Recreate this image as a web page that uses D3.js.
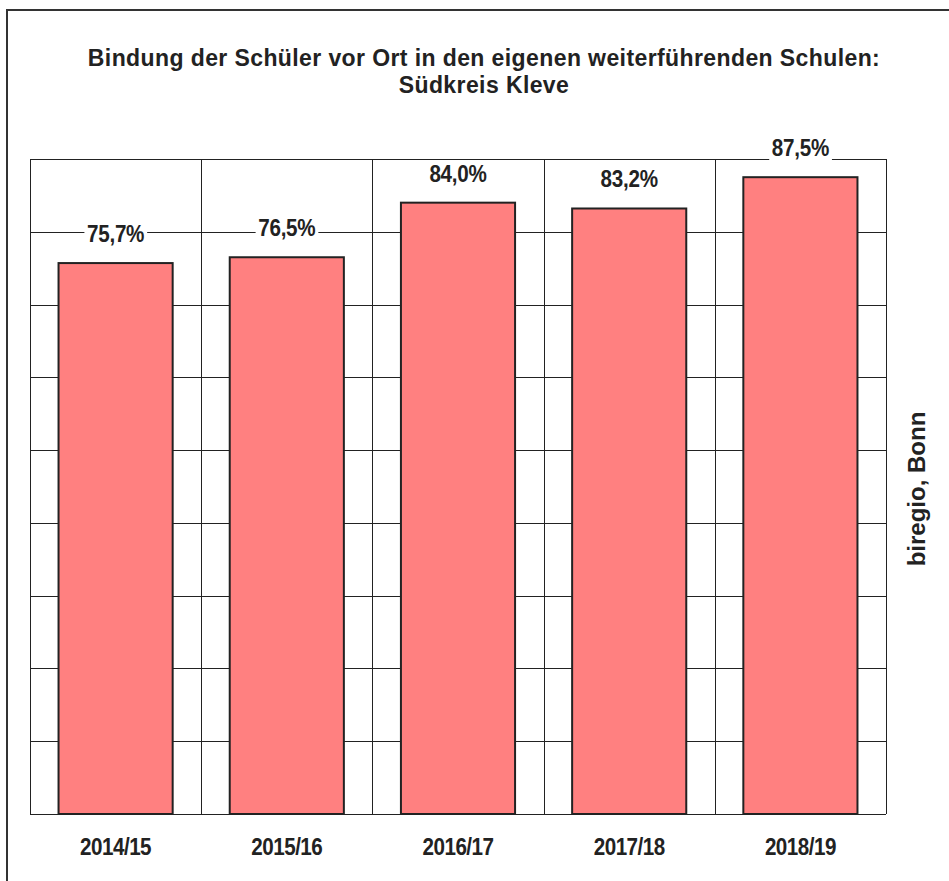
<!DOCTYPE html>
<html>
<head>
<meta charset="utf-8">
<script src="https://cdn.jsdelivr.net/npm/d3@7"></script>
<style>
  html, body { margin: 0; padding: 0; background: #fff; }
  svg { display: block; font-family: "Liberation Sans", Arial, sans-serif; }
</style>
</head>
<body>
<svg id="chart" width="949" height="881"></svg>
<script>
// School years and share of pupils staying in local secondary schools (%)
const years = ["2014/15", "2015/16", "2016/17", "2017/18", "2018/19"];
const shares = [75.7, 76.5, 84.0, 83.2, 87.5];
const yTicks = [0, 10, 20, 30, 40, 50, 60, 70, 80, 90];
const titleLines = ["Bindung der Schüler vor Ort in den eigenen weiterführenden Schulen:", "Südkreis Kleve"];
const sourceText = "biregio, Bonn";

const svg = d3.select("#chart");
const ink = "#222";
const narrow = 0.86; // horizontal squeeze for the narrow bold labels

// outer frame (top and left edges)
svg.append("path")
  .attr("d", "M7,881 V10 H949")
  .attr("fill", "none")
  .attr("stroke", "#333")
  .attr("stroke-width", 2);

const plot = { left: 30, right: 886, top: 159, bottom: 814 };

const x = d3.scaleBand()
  .domain(years)
  .range([plot.left, plot.right])
  .paddingInner(1 / 3)
  .paddingOuter(1 / 6);

const y = d3.scaleLinear()
  .domain([0, 90])
  .range([plot.bottom, plot.top]);

const step = x.step();
const gap = (step - x.bandwidth()) / 2;

// horizontal grid
svg.append("g").selectAll("line")
  .data(yTicks)
  .join("line")
  .attr("x1", plot.left).attr("x2", plot.right)
  .attr("y1", d => Math.round(y(d)) + 0.5).attr("y2", d => Math.round(y(d)) + 0.5)
  .attr("stroke", ink).attr("stroke-width", 1);

// vertical grid at category boundaries
const bounds = years.map(d => x(d) - gap).concat([x(years[years.length - 1]) + x.bandwidth() + gap]);
svg.append("g").selectAll("line")
  .data(bounds)
  .join("line")
  .attr("x1", d => Math.round(d) + 0.5).attr("x2", d => Math.round(d) + 0.5)
  .attr("y1", plot.top).attr("y2", plot.bottom)
  .attr("stroke", ink).attr("stroke-width", 1);

// bars
svg.append("g").selectAll("rect")
  .data(years)
  .join("rect")
  .attr("x", d => x(d))
  .attr("y", (d, i) => y(shares[i]))
  .attr("width", x.bandwidth())
  .attr("height", (d, i) => y(0) - y(shares[i]))
  .attr("fill", "#FF8080")
  .attr("stroke", ink)
  .attr("stroke-width", 2);

// value labels with white knockout
const fmt = v => v.toFixed(1).replace(".", ",") + "%";
const labels = svg.append("g");
years.forEach((d, i) => {
  const g = labels.append("g")
    .attr("transform", `translate(${x(d) + x.bandwidth() / 2},${y(shares[i]) - 21}) scale(${narrow},1)`);
  const t = g.append("text")
    .attr("text-anchor", "middle")
    .attr("font-size", 24)
    .attr("font-weight", "bold")
    .attr("letter-spacing", -0.3)
    .attr("fill", ink)
    .text(fmt(shares[i]));
  const bb = t.node().getBBox();
  g.insert("rect", "text")
    .attr("x", bb.x - 3)
    .attr("y", bb.y + 3)
    .attr("width", bb.width + 6)
    .attr("height", bb.height - 2)
    .attr("fill", "#fff");
});

// category labels
svg.append("g").selectAll("text")
  .data(years)
  .join("text")
  .attr("transform", d => `translate(${x(d) + x.bandwidth() / 2},855) scale(${narrow},1)`)
  .attr("text-anchor", "middle")
  .attr("font-size", 24)
  .attr("font-weight", "bold")
  .attr("letter-spacing", -0.6)
  .attr("fill", ink)
  .text(d => d);

// title
svg.append("g").selectAll("text")
  .data(titleLines)
  .join("text")
  .attr("x", 484)
  .attr("y", (d, i) => 66 + i * 27)
  .attr("text-anchor", "middle")
  .attr("font-size", 23)
  .attr("font-weight", "bold")
  .attr("letter-spacing", 0.4)
  .attr("fill", ink)
  .text(d => d);

// source note on the right
svg.append("text")
  .attr("transform", "translate(925,489) rotate(-90)")
  .attr("text-anchor", "middle")
  .attr("font-size", 24)
  .attr("font-weight", "bold")
  .attr("fill", ink)
  .text(sourceText);
</script>
</body>
</html>
